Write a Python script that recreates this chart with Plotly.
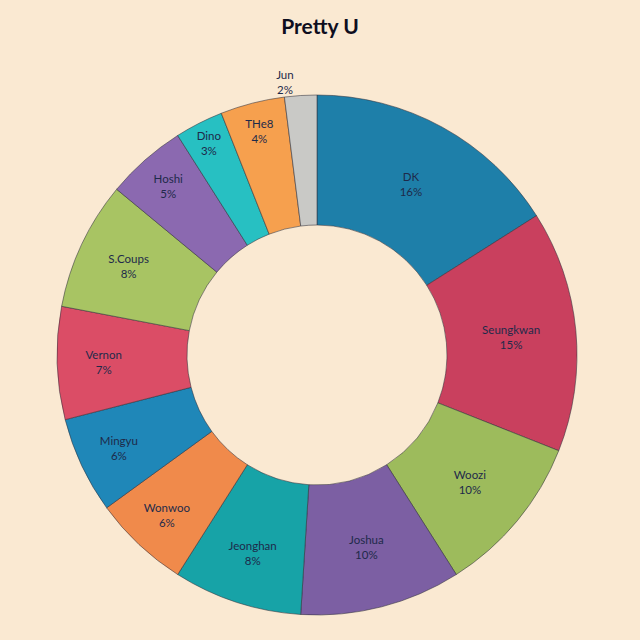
import plotly.graph_objects as go

members = ["DK", "Seungkwan", "Woozi", "Joshua", "Jeonghan", "Wonwoo", "Mingyu",
           "Vernon", "S.Coups", "Hoshi", "Dino", "THe8", "Jun"]
shares = [16, 15, 10, 10, 8, 6, 6, 7, 8, 5, 3, 4, 2]
colors = ["#1E7FA9", "#C9405E", "#9DBB5C", "#7C5FA3", "#17A3A7", "#F08A4B", "#1F87B8",
          "#DB4D66", "#A8C463", "#8B69B0", "#27C0C2", "#F6A04E", "#C9C9C6"]

bg = "#FAE9D2"
text_pos = ["inside"] * (len(members) - 1) + ["outside"]

fig = go.Figure(go.Pie(
    labels=members,
    values=shares,
    sort=False,
    direction="clockwise",
    rotation=0,
    hole=0.5,
    marker=dict(colors=colors, line=dict(color="rgba(50,50,60,0.55)", width=1)),
    texttemplate="%{label}<br>%{value}%",
    textposition=text_pos,
    insidetextorientation="horizontal",
    textfont=dict(family="Lato", size=11.5, color="#1E2A4A"),
    showlegend=False,
))

fig.update_layout(
    width=640, height=640,
    paper_bgcolor=bg, plot_bgcolor=bg,
    margin=dict(l=57, r=63, t=95, b=25),
    title=dict(text="<b>Pretty U</b>", x=0.5, xanchor="center", y=0.958, yanchor="middle",
               font=dict(family="Lato", size=21, color="#0E0E1E")),
)

# drop the page's default body margin so the figure fills the window
fig.write_html("out.html", config={"displayModeBar": False},
               post_script="document.body.style.margin='0';")
